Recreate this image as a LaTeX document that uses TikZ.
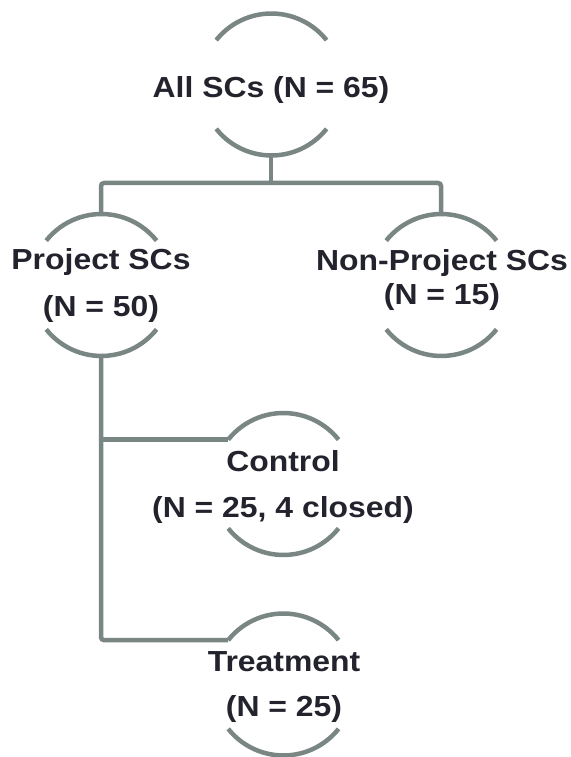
\documentclass[tikz,border=0pt]{standalone}
\usepackage{fontspec}
\setmainfont[FakeStretch=1.10]{Liberation Sans}
\definecolor{lncol}{RGB}{122,134,131}
\definecolor{txtcol}{RGB}{35,35,45}
\begin{document}
\begin{tikzpicture}[x=1pt,y=1pt,
  ring/.style={circle,minimum size=141pt,inner sep=0pt,outer sep=0pt},
  ln/.style={draw=lncol,line width=4.5pt},
  lbl/.style={anchor=base,inner sep=0pt,text=txtcol,font=\fontsize{29}{34}\selectfont\bfseries}]
\useasboundingbox (0,0) rectangle (570,757);
% circles
\node[ring] (all) at (271,672.5) {};
\node[ring] (proj) at (101,472) {};
\node[ring] (nonproj) at (441,472) {};
\node[ring] (ctrl) at (283,273) {};
\node[ring] (treat) at (283,72.5) {};
\foreach \n in {all,proj,nonproj,ctrl,treat}{
  \draw[ln] (\n.141.5) arc[start angle=141.5,end angle=38.5,radius=70.5pt];
  \draw[ln] (\n.-141.5) arc[start angle=-141.5,end angle=-38.5,radius=70.5pt];
}
% labels
\node[lbl] (allA) at (271,659) {All SCs (N = 65)};
\node[lbl] (projA) at (101,487) {Project SCs};
\node[lbl] (projB) at (101,440) {(N = 50)};
\node[lbl] (nonprojA) at (442,486) {Non-Project SCs};
\node[lbl] (nonprojB) at (442,452) {(N = 15)};
\node[lbl] (ctrlA) at (283,285) {Control};
\node[lbl] (ctrlB) at (283,239) {(N = 25, 4 closed)};
\node[lbl] (treatA) at (284,85) {Treatment};
\node[lbl] (treatB) at (284,40) {(N = 25)};
% connectors
\coordinate (bus) at (271,574);
\draw[ln] (all.south) -- (bus);
\draw[ln,rounded corners=3pt] (proj.north) |- (bus) -| (nonproj.north);
\draw[ln,rounded corners=3pt] (proj.south) |- (treat.141.5);
\draw[ln] (proj.south |- ctrl.141.5) -- (ctrl.141.5);
\end{tikzpicture}
\end{document}
